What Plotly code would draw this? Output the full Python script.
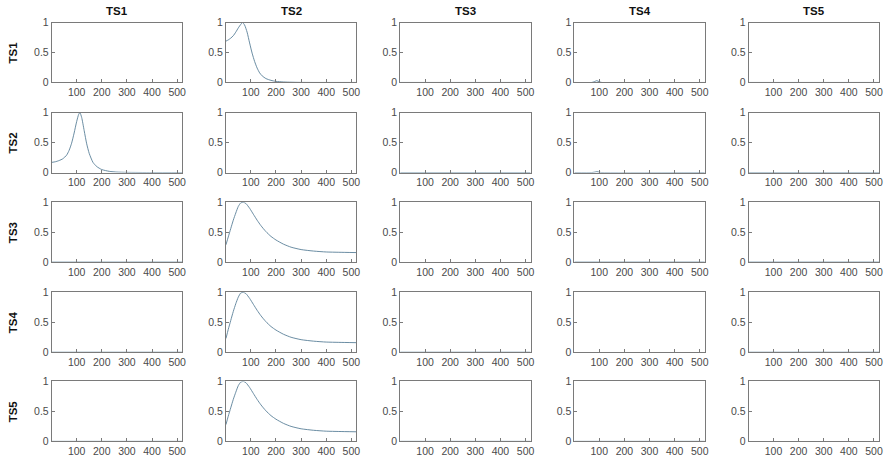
import plotly.graph_objects as go

names = ["TS1", "TS2", "TS3", "TS4", "TS5"]
x_ticks = [100, 200, 300, 400, 500]
y_ticks = [0, 0.5, 1]
y_tick_text = ["0", "0.5", "1"]
x_span = [1, 520]

# row TS1, column TS2
x_r1c2 = [1, 10, 20, 30, 40, 50, 60, 67, 75, 85, 95, 105, 115, 125, 135, 145, 160, 180, 200, 230, 260, 300, 350, 400, 450, 520]
y_r1c2 = [0.69, 0.71, 0.74, 0.78, 0.84, 0.91, 0.97, 1.0, 0.96, 0.84, 0.66, 0.49, 0.35, 0.24, 0.16, 0.11, 0.065, 0.035, 0.018, 0.008, 0.004, 0.001, 0, 0, 0, 0]

# row TS2, column TS1
x_r2c1 = [1, 15, 30, 45, 60, 70, 80, 90, 100, 108, 113, 120, 130, 140, 150, 165, 180, 200, 230, 260, 300, 400, 520]
y_r2c1 = [0.17, 0.18, 0.20, 0.23, 0.29, 0.37, 0.49, 0.66, 0.85, 0.97, 1.0, 0.92, 0.70, 0.48, 0.32, 0.17, 0.10, 0.05, 0.02, 0.008, 0.003, 0, 0]

# rows TS3..TS5, column TS2
x_decay = [1, 10, 20, 30, 40, 50, 60, 70, 80, 95, 110, 125, 140, 160, 180, 200, 230, 260, 300, 350, 400, 450, 520]
y_r3c2 = [0.29, 0.42, 0.56, 0.70, 0.82, 0.93, 0.99, 1.0, 0.98, 0.90, 0.80, 0.70, 0.61, 0.51, 0.43, 0.37, 0.30, 0.25, 0.21, 0.185, 0.17, 0.165, 0.16]
y_r4c2 = [0.23, 0.38, 0.53, 0.68, 0.81, 0.92, 0.99, 1.0, 0.98, 0.90, 0.80, 0.70, 0.61, 0.51, 0.43, 0.37, 0.30, 0.25, 0.21, 0.185, 0.17, 0.165, 0.16]
y_r5c2 = [0.28, 0.42, 0.56, 0.70, 0.82, 0.93, 0.99, 1.0, 0.98, 0.90, 0.80, 0.70, 0.61, 0.51, 0.43, 0.37, 0.30, 0.25, 0.21, 0.185, 0.17, 0.165, 0.16]

# small bumps in column TS4
x_bump = [1, 70, 80, 90, 100, 110, 520]
y_r1c4 = [0, 0, 0.012, 0.03, 0.012, 0, 0]
y_r2c4 = [0, 0, 0.006, 0.015, 0.006, 0, 0]

# flat series
x_flat = [1, 520]
y_flat = [0, 0]

curves = {
    (0, 1): (x_r1c2, y_r1c2, "spline"),
    (1, 0): (x_r2c1, y_r2c1, "spline"),
    (2, 1): (x_decay, y_r3c2, "spline"),
    (3, 1): (x_decay, y_r4c2, "spline"),
    (4, 1): (x_decay, y_r5c2, "spline"),
    (0, 3): (x_bump, y_r1c4, "spline"),
    (1, 3): (x_bump, y_r2c4, "spline"),
}

W, H = 888, 461
col_left = [52, 227, 402, 577, 752]
panel_w = 131
row_top = [17, 109.5, 201.5, 294, 385.5]
panel_h = 61.5

line_color = "#5a8099"
axis_color = "#7a7a7a"
tick_color = "#4a4a4a"
font_family = "Liberation Sans, Arial, sans-serif"

fig = go.Figure()
layout = {}
annotations = []
for r in range(5):
    for c in range(5):
        k = r * 5 + c + 1
        xa = "xaxis" if k == 1 else f"xaxis{k}"
        ya = "yaxis" if k == 1 else f"yaxis{k}"
        xref = "x" if k == 1 else f"x{k}"
        yref = "y" if k == 1 else f"y{k}"
        x0 = col_left[c] / W
        x1 = (col_left[c] + panel_w) / W
        y1 = 1 - row_top[r] / H
        y0 = 1 - (row_top[r] + panel_h) / H
        layout[xa] = dict(domain=[x0, x1], anchor=yref, range=x_span,
                          tickvals=x_ticks, ticks="inside", ticklen=3,
                          tickcolor=axis_color, showline=True, mirror=True,
                          linecolor=axis_color, linewidth=1, showgrid=False,
                          zeroline=False, tickfont=dict(size=10.5, color=tick_color, family=font_family))
        layout[ya] = dict(domain=[y0, y1], anchor=xref, range=[0, 1],
                          tickvals=y_ticks, ticktext=y_tick_text, ticks="inside", ticklen=3,
                          tickcolor=axis_color, showline=True, mirror=True,
                          linecolor=axis_color, linewidth=1, showgrid=False,
                          zeroline=False, tickfont=dict(size=10.5, color=tick_color, family=font_family))
        if r == c:
            fig.add_trace(go.Scatter(x=[None], y=[None], mode="lines", xaxis=xref, yaxis=yref,
                                     showlegend=False, hoverinfo="skip"))
            continue
        if (r, c) in curves:
            xs, ys, shape = curves[(r, c)]
        else:
            xs, ys, shape = x_flat, y_flat, "linear"
        fig.add_trace(go.Scatter(x=xs, y=ys, mode="lines", xaxis=xref, yaxis=yref,
                                 line=dict(color=line_color, width=0.9, shape=shape, smoothing=0.6),
                                 showlegend=False, hoverinfo="skip"))

for c in range(5):
    annotations.append(dict(text=f"<b>{names[c]}</b>", xref="paper", yref="paper",
                            x=(col_left[c] + panel_w / 2) / W, y=1 - 5 / H,
                            showarrow=False, font=dict(size=11.5, color="#111111", family=font_family),
                            xanchor="center", yanchor="middle"))
for r in range(5):
    annotations.append(dict(text=f"<b>{names[r]}</b>", xref="paper", yref="paper",
                            x=13 / W, y=1 - (row_top[r] + panel_h / 2) / H, textangle=-90,
                            showarrow=False, font=dict(size=11.5, color="#111111", family=font_family),
                            xanchor="center", yanchor="middle"))

fig.update_layout(width=W, height=H, margin=dict(l=0, r=0, t=0, b=0),
                  paper_bgcolor="white", plot_bgcolor="white",
                  annotations=annotations, **layout)
fig.write_html("out.html", config={"displayModeBar": False},
               post_script="document.body.style.margin='0';document.body.style.overflow='hidden';")
